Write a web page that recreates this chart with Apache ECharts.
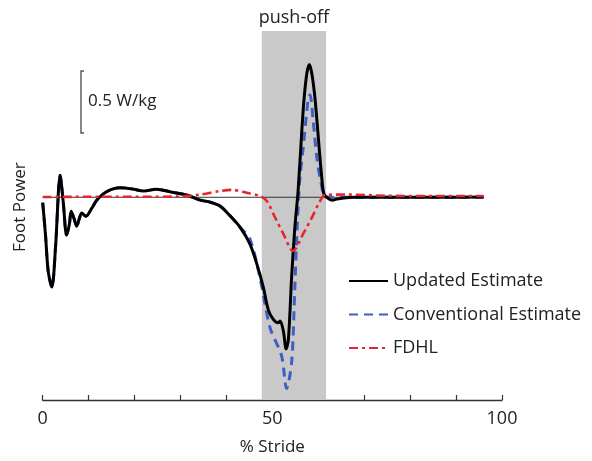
<!DOCTYPE html>
<html>
<head>
<meta charset="utf-8">
<script src="https://cdn.jsdelivr.net/npm/echarts@6/dist/echarts.min.js"></script>
<style>
html,body{margin:0;padding:0;background:#fff;}
#chart{width:592px;height:461px;}
</style>
</head>
<body>
<div id="chart"></div>
<script>
// ---- data (x = % stride, y = W/kg) ----
var updatedX = [0, 0.6, 1.2, 2.0, 2.8, 3.8, 4.5, 5.2, 5.8, 6.2, 6.8, 7.4, 8.0, 8.5, 9.4, 10.7, 11.8, 13.9, 16.8, 19.7, 21.9, 24.8, 27.7, 31.4, 34.2, 36.5, 38.6, 40.8, 43.0, 45.1, 46.6, 48.0, 49.1, 50.2, 51.3, 51.7, 52.4, 53.0, 53.5, 54.2, 54.9, 55.6, 56.4, 56.9, 57.5, 58.05, 58.6, 59.3, 60.2, 60.7, 61.2, 62.0, 63.0, 64.0, 65.5, 68, 75, 85, 96];
var updatedY = [-0.044, -0.30, -0.60, -0.727, -0.40, 0.178, -0.05, -0.306, -0.22, -0.114, -0.17, -0.234, -0.17, -0.128, -0.154, -0.088, -0.022, 0.045, 0.077, 0.066, 0.05, 0.066, 0.045, 0.018, -0.022, -0.04, -0.07, -0.15, -0.244, -0.377, -0.537, -0.723, -0.909, -0.989, -1.016, -1.002, -1.082, -1.228, -1.149, -0.643, -0.244, 0.05, 0.529, 0.795, 1.0, 1.074, 1.0, 0.795, 0.395, 0.182, 0.03, -0.005, -0.025, -0.015, -0.005, 0.0, 0.0, 0.0, 0.002];

var conventionalX = [0, 0.6, 1.2, 2.0, 2.8, 3.8, 4.5, 5.2, 5.8, 6.2, 6.8, 7.4, 8.0, 8.5, 9.4, 10.7, 11.8, 13.9, 16.8, 19.7, 21.9, 24.8, 27.7, 31.4, 34.2, 36.5, 38.6, 40.8, 43.0, 45.1, 47.3, 49.5, 52.0, 53.1, 54.2, 54.9, 55.4, 56.0, 56.7, 57.8, 58.2, 58.85, 59.7, 60.6, 61.5, 63, 70, 96];
var conventionalY = [-0.044, -0.30, -0.60, -0.727, -0.40, 0.178, -0.05, -0.306, -0.22, -0.114, -0.17, -0.234, -0.17, -0.128, -0.154, -0.088, -0.022, 0.045, 0.077, 0.066, 0.05, 0.066, 0.045, 0.018, -0.022, -0.04, -0.07, -0.15, -0.244, -0.337, -0.65, -1.056, -1.282, -1.548, -1.335, -0.723, -0.244, 0.156, 0.395, 0.795, 0.83, 0.635, 0.316, 0.116, 0.004, 0.0, 0.0, 0.0];

var fdhlX = [0, 10, 20, 30, 34.3, 38.6, 41.2, 44.4, 47.3, 48.8, 50.6, 52.4, 54.5, 56.7, 58.6, 60.4, 61.5, 66.3, 75, 85, 96];
var fdhlY = [0.002, 0.004, 0.004, 0.006, 0.022, 0.05, 0.06, 0.036, 0.01, -0.03, -0.164, -0.297, -0.435, -0.297, -0.164, -0.03, 0.02, 0.022, 0.012, 0.01, 0.01];

var zeroX = [0, 96];
var zeroY = [0, 0];

var pushOff = [47.7, 61.7];
var xTickLabels = [0, 50, 100];
var seriesNames = ['Updated Estimate', 'Conventional Estimate', 'FDHL'];

function pairs(xs, ys){ return xs.map(function(x,i){ return [x, ys[i]]; }); }

var FONT = '"Open Sans", "Noto Sans", sans-serif';
var chart = echarts.init(document.getElementById('chart'));
chart.setOption({
  animation: false,
  backgroundColor: '#fff',
  textStyle: {fontFamily: FONT},
  grid: {left: 42.7, right: 90, top: 31, bottom: 56, containLabel: false},
  xAxis: {
    type: 'value', min: 0, max: 100, interval: 10,
    axisLine: {show: true, onZero: false, lineStyle: {color: '#333', width: 1.3}},
    axisTick: {show: true, inside: true, length: 5, lineStyle: {color: '#333', width: 1.2}},
    axisLabel: {
      fontSize: 18, color: '#222', margin: 10, fontFamily: FONT,
      formatter: function(v){ return xTickLabels.indexOf(v) >= 0 ? String(v) : ''; }
    },
    splitLine: {show: false},
    name: '% Stride', nameLocation: 'middle', nameGap: 39,
    nameTextStyle: {fontSize: 17, color: '#222', fontFamily: FONT}
  },
  yAxis: {
    type: 'value', min: -1.641, max: 1.346,
    show: true,
    axisLine: {show: false}, axisTick: {show: false}, axisLabel: {show: false}, splitLine: {show: false}
  },
  legend: {
    orient: 'vertical', left: 348, top: 272, padding: 0,
    itemWidth: 39, itemHeight: 14, itemGap: 15.5,
    data: seriesNames,
    itemStyle: {opacity: 0},
    textStyle: {fontSize: 18, color: '#222', fontFamily: FONT}
  },
  series: [
    {
      name: 'zero', type: 'line', data: pairs(zeroX, zeroY), symbol: 'none',
      lineStyle: {color: '#333', width: 1}, silent: true, z: 1,
      markArea: {
        silent: true,
        itemStyle: {color: '#c9c9c9'},
        label: {show: true, position: 'top', distance: 4, fontSize: 18, color: '#222', fontFamily: FONT},
        data: [[{name: 'push-off', xAxis: pushOff[0]}, {xAxis: pushOff[1]}]]
      }
    },
    {
      name: seriesNames[1], type: 'line', data: pairs(conventionalX, conventionalY),
      symbol: 'none', smooth: 0.3, z: 3,
      lineStyle: {color: '#3f5fc4', width: 3, type: [9, 6]},
      itemStyle: {color: '#3f5fc4'}
    },
    {
      name: seriesNames[0], type: 'line', data: pairs(updatedX, updatedY),
      symbol: 'none', smooth: 0.3, z: 4,
      lineStyle: {color: '#000', width: 3},
      itemStyle: {color: '#000'}
    },
    {
      name: seriesNames[2], type: 'line', data: pairs(fdhlX, fdhlY),
      symbol: 'none', smooth: 0.3, z: 5,
      lineStyle: {color: '#e5262e', width: 2.6, type: [9, 4, 3, 4]},
      itemStyle: {color: '#e5262e'}
    }
  ],
  graphic: [
    {type: 'polyline', shape: {points: [[84, 71], [81, 71], [81, 133], [84, 133]]},
     style: {stroke: '#555', lineWidth: 1.4, fill: null}},
    {type: 'text', left: 88, top: 93, style: {text: '0.5 W/kg', fontSize: 17, fill: '#222', fontFamily: FONT}},
    {type: 'text', x: 12, y: 252, rotation: Math.PI / 2,
     style: {text: 'Foot Power', fontSize: 17, fill: '#222', fontFamily: FONT, verticalAlign: 'top', align: 'left'}}
  ]
});
</script>
</body>
</html>
